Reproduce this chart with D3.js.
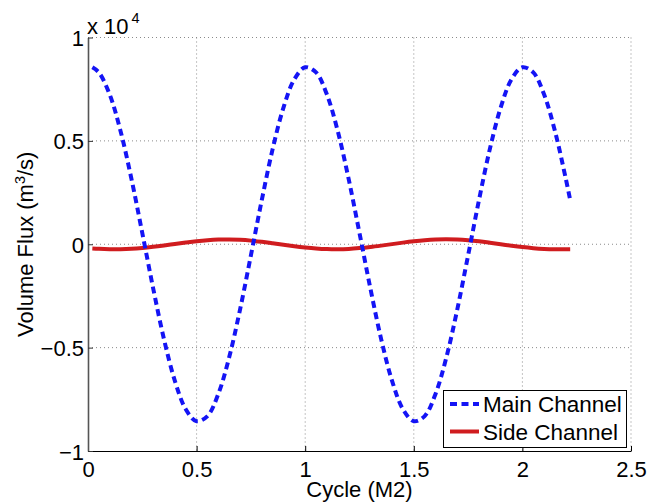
<!DOCTYPE html>
<html>
<head>
<meta charset="utf-8">
<script src="https://cdn.jsdelivr.net/npm/d3@7/dist/d3.min.js"></script>
<style>
  html, body { margin: 0; padding: 0; background: #fff; }
  svg { display: block; font-family: "Liberation Sans", Arial, Helvetica, sans-serif; }
</style>
</head>
<body>
<svg id="chart" width="649" height="502"></svg>
<script>
// Tidal cycle (M2 periods) at which the fluxes were sampled
const cycle = [
  0.02, 0.05, 0.10, 0.15, 0.20, 0.25, 0.30, 0.35, 0.40, 0.45,
  0.50, 0.55, 0.60, 0.65, 0.70, 0.75, 0.80, 0.85, 0.90, 0.95,
  1.00, 1.05, 1.10, 1.15, 1.20, 1.25, 1.30, 1.35, 1.40, 1.45,
  1.50, 1.55, 1.60, 1.65, 1.70, 1.75, 1.80, 1.85, 1.90, 1.95,
  2.00, 2.05, 2.10, 2.15, 2.20, 2.22
];

// Volume flux through the main channel (m^3/s)
const mainChannel = [
   8560,  8310,  7240,  5470,  3160,   540, -2130, -4600, -6610, -7980,
  -8560, -8310, -7240, -5470, -3160,  -540,  2130,  4600,  6610,  7980,
   8560,  8310,  7240,  5470,  3160,   540, -2130, -4600, -6610, -7980,
  -8560, -8310, -7240, -5470, -3160,  -540,  2130,  4600,  6610,  7980,
   8560,  8310,  7240,  5470,  3160,  2140
];

// Volume flux through the side channel (m^3/s)
const sideChannel = [
  -205, -222, -238, -240, -222, -182, -125,  -58,   15,   85,
   148,  196,  226,  232,  214,  175,  118,   50,  -22,  -92,
  -152, -200, -230, -238, -224, -186, -132,  -66,    6,   78,
   142,  194,  228,  238,  226,  192,  140,   74,    2,  -72,
  -138, -190, -226, -244, -246, -244
];

const xTicks = [0, 0.5, 1, 1.5, 2, 2.5];
const xTickLabels = ["0", "0.5", "1", "1.5", "2", "2.5"];
const yTicks = [-10000, -5000, 0, 5000, 10000];
const yTickLabels = ["\u22121", "\u22120.5", "0", "0.5", "1"];
const seriesNames = ["Main Channel", "Side Channel"];

const FONT = 22;
const svg = d3.select("#chart");
const plot = { left: 88, right: 631, top: 37.5, bottom: 451 };

const x = d3.scaleLinear().domain([0, 2.5]).range([plot.left, plot.right]);
const y = d3.scaleLinear().domain([-10000, 10000]).range([plot.bottom, plot.top]);

// dotted grid
const grid = svg.append("g").attr("stroke", "#8a8a8a").attr("stroke-width", 1)
  .attr("stroke-dasharray", "1,3");
xTicks.filter(d => d > 0).forEach(d => {
  grid.append("line")
    .attr("x1", x(d)).attr("x2", x(d))
    .attr("y1", plot.top).attr("y2", plot.bottom);
});
yTicks.filter(d => d > -10000).forEach(d => {
  grid.append("line")
    .attr("x1", plot.left).attr("x2", plot.right)
    .attr("y1", y(d)).attr("y2", y(d));
});

// flux curves
const line = (vals) => d3.line()
  .x((d, i) => x(cycle[i]))
  .y(d => y(d))
  .curve(d3.curveCatmullRom.alpha(0.5))(vals);

svg.append("path")
  .attr("d", line(sideChannel))
  .attr("fill", "none")
  .attr("stroke", "#d01c1f")
  .attr("stroke-width", 4);

svg.append("path")
  .attr("d", line(mainChannel))
  .attr("fill", "none")
  .attr("stroke", "#1414f5")
  .attr("stroke-width", 4)
  .attr("stroke-dasharray", "7,4.5");

// axes
const xAxis = d3.axisBottom(x)
  .tickValues(xTicks)
  .tickFormat((d, i) => xTickLabels[i])
  .tickSizeInner(-5).tickSizeOuter(0);
const gx = svg.append("g").attr("transform", `translate(0,${plot.bottom})`).call(xAxis);
gx.select(".domain").attr("stroke", "#000").attr("stroke-width", 1.2);
gx.selectAll(".tick line").attr("stroke", "#000");
gx.selectAll(".tick text")
  .attr("y", 25.5).attr("dy", null)
  .attr("font-size", FONT).attr("fill", "#000")
  .attr("font-family", "Liberation Sans, Arial, sans-serif");

const yAxis = d3.axisLeft(y)
  .tickValues(yTicks)
  .tickFormat((d, i) => yTickLabels[i])
  .tickSizeInner(-5).tickSizeOuter(0);
const gy = svg.append("g").attr("transform", `translate(${plot.left},0)`).call(yAxis);
gy.select(".domain").attr("stroke", "#555").attr("stroke-width", 1.6);
gy.selectAll(".tick line").attr("stroke", "#333");
gy.selectAll(".tick text")
  .attr("x", -4).attr("dy", null).attr("y", 8)
  .attr("font-size", FONT).attr("fill", "#000")
  .attr("font-family", "Liberation Sans, Arial, sans-serif");

// exponent multiplier
const mult = svg.append("text").attr("x", 87).attr("y", 33.5)
  .attr("font-size", FONT).attr("fill", "#000");
mult.append("tspan").text("x 10");
mult.append("tspan").attr("font-size", 14.5).attr("dy", -10.5).attr("dx", 3).text("4");

// axis titles
svg.append("text")
  .attr("x", (plot.left + plot.right) / 2).attr("y", 497)
  .attr("text-anchor", "middle").attr("font-size", FONT).attr("fill", "#000")
  .text("Cycle (M2)");

const yt = svg.append("text")
  .attr("transform", `translate(33,${(plot.top + plot.bottom) / 2}) rotate(-90)`)
  .attr("text-anchor", "middle").attr("font-size", FONT).attr("fill", "#000");
yt.append("tspan").text("Volume Flux (m");
yt.append("tspan").attr("font-size", 14.5).attr("dy", -8).text("3");
yt.append("tspan").attr("dy", 8).text("/s)");

// legend
const legend = svg.append("g");
legend.append("rect")
  .attr("x", 443.5).attr("y", 390.5).attr("width", 183).attr("height", 57)
  .attr("fill", "#fff").attr("stroke", "#000").attr("stroke-width", 1);
const styles = [
  { stroke: "#1414f5", dash: "7,4.5" },
  { stroke: "#d01c1f", dash: null }
];
seriesNames.forEach((name, i) => {
  const cy = 404 + i * 27.5;
  legend.append("line")
    .attr("x1", 450).attr("x2", 479).attr("y1", cy).attr("y2", cy)
    .attr("stroke", styles[i].stroke).attr("stroke-width", 4)
    .attr("stroke-dasharray", styles[i].dash);
  legend.append("text")
    .attr("x", 483).attr("y", cy + 8)
    .attr("font-size", 22.5).attr("fill", "#000")
    .text(name);
});
</script>
</body>
</html>
